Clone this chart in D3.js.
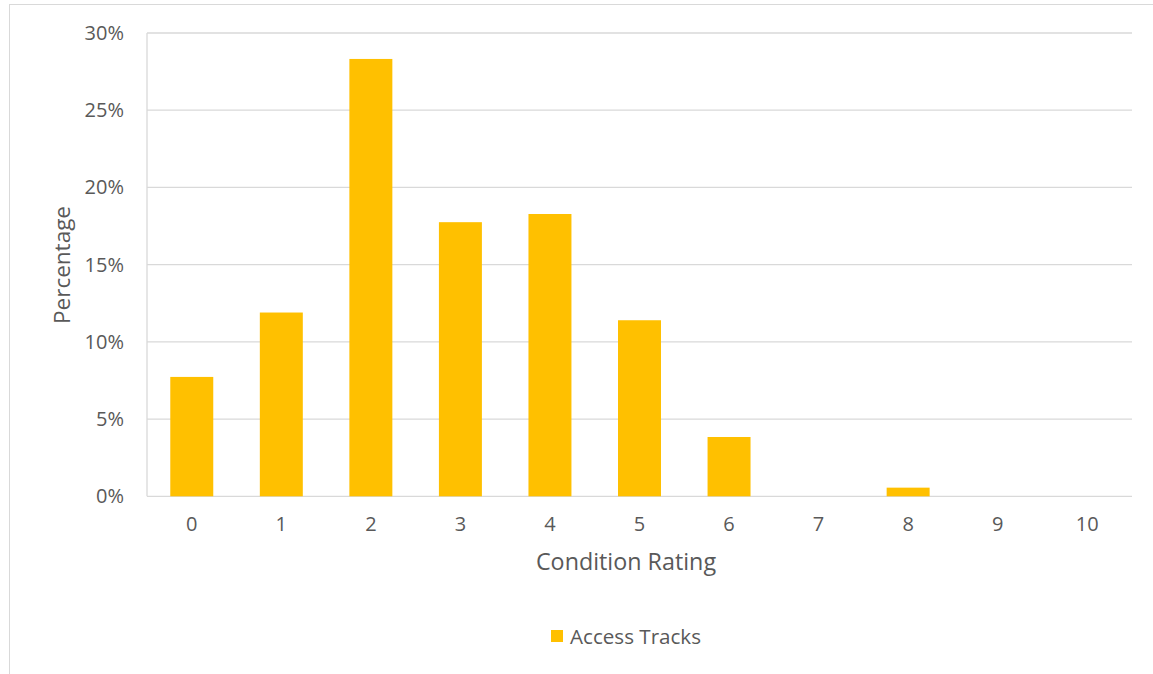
<!DOCTYPE html>
<html><head><meta charset="utf-8">
<script src="https://cdn.jsdelivr.net/npm/d3@7"></script>
<style>body{margin:0;background:#fff;}svg{display:block;font-family:"Open Sans",sans-serif;}</style>
</head><body>
<svg id="c" width="1153" height="674"></svg>
<script>
const categories = ["0","1","2","3","4","5","6","7","8","9","10"];
const values = [7.73, 11.9, 28.32, 17.75, 18.28, 11.4, 3.84, 0, 0.56, 0, 0];
const yTicks = [0,5,10,15,20,25,30];
const seriesName = "Access Tracks";
const xTitle = "Condition Rating";
const yTitle = "Percentage";

const svg = d3.select("#c");
svg.append("rect").attr("x",9.5).attr("y",4.5).attr("width",1160).attr("height",700)
  .attr("fill","#fff").attr("stroke","#d9d9d9").attr("stroke-width",1);

const L=147, R=1132, T=33, B=496.3;
const x = d3.scaleBand().domain(categories).range([L,R]).paddingInner(0.52).paddingOuter(0.26);
const y = d3.scaleLinear().domain([0,30]).range([B,T]);

const g = svg.append("g");
g.selectAll("line.grid").data(yTicks).join("line")
  .attr("x1",L).attr("x2",R).attr("y1",d=>y(d)).attr("y2",d=>y(d))
  .attr("stroke","#d9d9d9").attr("stroke-width",1.3);
g.append("line").attr("x1",L).attr("x2",L).attr("y1",T).attr("y2",B).attr("stroke","#d9d9d9").attr("stroke-width",1.3);

g.selectAll("rect.bar").data(values).join("rect")
  .attr("x",(d,i)=>x(categories[i])).attr("width",x.bandwidth())
  .attr("y",d=>y(d)).attr("height",d=>B-y(d)).attr("fill","#ffc000");

const yAxis = d3.axisLeft(y).tickValues(yTicks).tickFormat(d=>d+"%").tickSize(0).tickPadding(23);
const ya = svg.append("g").attr("transform",`translate(${L},0)`).call(yAxis);
ya.select(".domain").remove();
ya.selectAll("text").attr("fill","#595959").style("font-size","20px").attr("font-family","'Open Sans',sans-serif");

const xAxis = d3.axisBottom(x).tickSize(0).tickPadding(21);
const xa = svg.append("g").attr("transform",`translate(0,${B})`).call(xAxis);
xa.select(".domain").remove();
xa.selectAll("text").attr("fill","#595959").style("font-size","20px").attr("font-family","'Open Sans',sans-serif");

svg.append("text").attr("x",626).attr("y",570).attr("text-anchor","middle")
  .attr("fill","#595959").style("font-size","23.3px").text(xTitle);
svg.append("text").attr("transform","translate(70,265) rotate(-90)").attr("text-anchor","middle")
  .attr("fill","#595959").style("font-size","22.5px").text(yTitle);

svg.append("rect").attr("x",551).attr("y",630).attr("width",12).attr("height",12).attr("fill","#ffc000");
svg.append("text").attr("x",570).attr("y",644).attr("fill","#595959").style("font-size","20.6px").text(seriesName);
</script>
</body></html>
